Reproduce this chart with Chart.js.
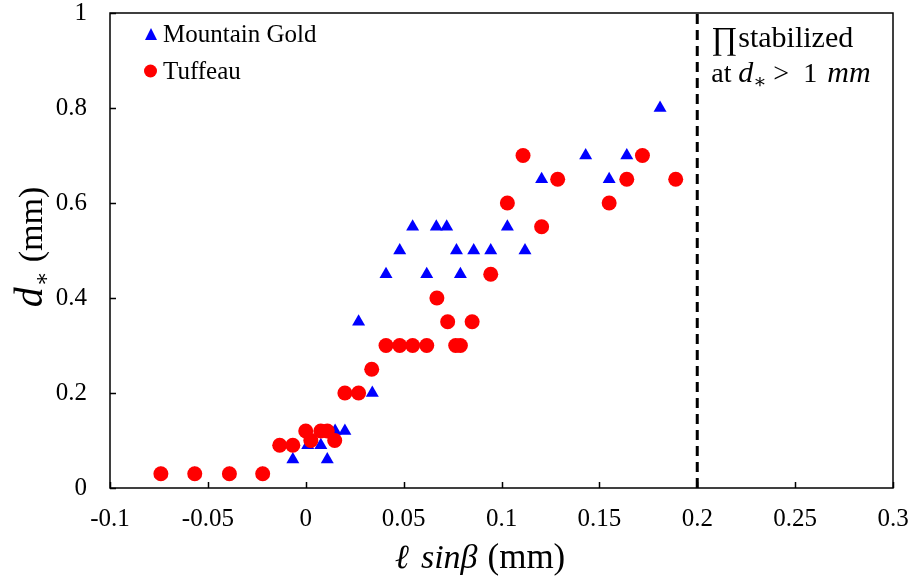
<!DOCTYPE html>
<html>
<head>
<meta charset="utf-8">
<script src="https://cdn.jsdelivr.net/npm/chart.js@4/dist/chart.umd.min.js"></script>
<style>
  html, body { margin: 0; padding: 0; background: #fff; }
  #wrap { width: 913px; height: 585px; position: relative; }
</style>
</head>
<body>
<div id="wrap"><canvas id="chart" width="913" height="585"></canvas></div>
<script>
// values
const mgX = [-0.074, -0.0567, -0.039, -0.022, -0.0133, -0.0066, 0.001, 0.0077, 0.011, 0.015, 0.02,
             0.034, 0.027, 0.041, 0.048, 0.0546, 0.0618, 0.0667, 0.072, 0.077, 0.079, 0.0858, 0.0945,
             0.103, 0.112, 0.1205, 0.1287, 0.143, 0.155, 0.164, 0.172, 0.181];
const mgY = [0.03, 0.03, 0.03, 0.03, 0.09, 0.06, 0.09, 0.09, 0.06, 0.12, 0.12,
             0.2, 0.35, 0.45, 0.5, 0.55, 0.45, 0.55, 0.55, 0.5, 0.45, 0.5, 0.5,
             0.55, 0.5, 0.65, 0.65, 0.7, 0.65, 0.7, 0.7, 0.8];
const tuX = [-0.074, -0.0567, -0.039, -0.022, -0.0133, -0.0066, 0, 0.0026, 0.0077, 0.011, 0.0148,
             0.02, 0.027, 0.0337, 0.041, 0.048, 0.0546, 0.0618, 0.067, 0.0725, 0.0766, 0.079, 0.085,
             0.0945, 0.103, 0.111, 0.1205, 0.1287, 0.155, 0.164, 0.172, 0.189];
const tuY = [0.03, 0.03, 0.03, 0.03, 0.09, 0.09, 0.12, 0.1, 0.12, 0.12, 0.1,
             0.2, 0.2, 0.25, 0.3, 0.3, 0.3, 0.3, 0.4, 0.35, 0.3, 0.3, 0.35,
             0.45, 0.6, 0.7, 0.55, 0.65, 0.6, 0.65, 0.7, 0.65];
const limitX = [0.2, 0.2];
const limitY = [0, 1];
const xTicks = [-0.1, -0.05, 0, 0.05, 0.1, 0.15, 0.2, 0.25, 0.3];
const yTicks = [0, 0.2, 0.4, 0.6, 0.8, 1];
const seriesNames = ['Mountain Gold', 'Tuffeau'];

const SERIF = '"Liberation Serif", "DejaVu Serif", serif';

function pairs(xs, ys) {
    return xs.map((x, i) => ({ x: x, y: ys[i] }));
}

// draws a run of [text, font, dx, dy] pieces starting at x,y
function drawRun(ctx, pieces, x, y) {
    let cx = x;
    pieces.forEach(p => {
        ctx.font = p[1];
        ctx.fillText(p[0], cx + (p[2] || 0), y + (p[3] || 0));
        cx += ctx.measureText(p[0]).width + (p[2] || 0);
    });
    return cx - x;
}

function runWidth(ctx, pieces) {
    let w = 0;
    pieces.forEach(p => { ctx.font = p[1]; w += ctx.measureText(p[0]).width + (p[2] || 0); });
    return w;
}

// frame, inward ticks, legend, titles and the annotation
const decor = {
    id: 'decor',
    afterDatasetsDraw(chart) {
        const ctx = chart.ctx;
        const a = chart.chartArea;
        const xs = chart.scales.x, ys = chart.scales.y;
        ctx.save();
        ctx.strokeStyle = '#000';
        ctx.lineWidth = 1.5;
        ctx.strokeRect(a.left, a.top, a.right - a.left, a.bottom - a.top);
        ctx.beginPath();
        xTicks.forEach(v => {
            const px = Math.round(xs.getPixelForValue(v)) + 0.5;
            ctx.moveTo(px, a.bottom); ctx.lineTo(px, a.bottom - 6);
        });
        yTicks.forEach(v => {
            const py = Math.round(ys.getPixelForValue(v)) + 0.5;
            ctx.moveTo(a.left, py); ctx.lineTo(a.left + 6, py);
        });
        ctx.stroke();

        // legend
        ctx.fillStyle = '#0000ff';
        ctx.beginPath();
        ctx.moveTo(151, 28); ctx.lineTo(157, 40); ctx.lineTo(145, 40); ctx.closePath();
        ctx.fill();
        ctx.fillStyle = '#ff0000';
        ctx.beginPath(); ctx.arc(150.5, 71, 6.5, 0, Math.PI * 2); ctx.fill();
        ctx.fillStyle = '#000';
        ctx.font = '25px ' + SERIF;
        ctx.textBaseline = 'alphabetic';
        ctx.textAlign = 'left';
        ctx.fillText(seriesNames[0], 163, 42);
        ctx.fillText(seriesNames[1], 163, 79);

        // annotation next to the dashed line
        const ax = xs.getPixelForValue(0.2) + 14;
        ctx.font = '32px ' + SERIF;
        ctx.fillText('\u220F', ax, 49);
        ctx.font = '30px ' + SERIF;
        ctx.fillText('stabilized', ax + 27, 47);
        ctx.font = '28px ' + SERIF;
        ctx.fillText('at', ax, 82);
        ctx.font = 'italic 30px ' + SERIF;
        ctx.fillText('d', ax + 27, 82);
        ctx.font = '20px ' + SERIF;
        ctx.fillText('\u2217', ax + 42, 88);
        ctx.font = '28px ' + SERIF;
        ctx.fillText('>', ax + 62, 82);
        ctx.fillText('1', ax + 92, 82);
        ctx.font = 'italic 30px ' + SERIF;
        ctx.fillText('mm', ax + 116, 82);

        // x title
        const xt = [
            ['\u2113', 'italic 34px ' + SERIF],
            ['sin\u03B2', 'italic 34px ' + SERIF, 12],
            ['(mm)', '35px ' + SERIF, 10]
        ];
        const xw = runWidth(ctx, xt);
        drawRun(ctx, xt, 480 - xw / 2, 568);

        // y title (rotated)
        ctx.translate(42, 247);
        ctx.rotate(-Math.PI / 2);
        const yt = [
            ['d', 'italic 40px ' + SERIF],
            ['\u2217', '22px ' + SERIF, 1, 7],
            ['(mm)', '34px ' + SERIF, 9]
        ];
        const yw = runWidth(ctx, yt);
        drawRun(ctx, yt, -yw / 2, 0);
        ctx.restore();
    }
};

const noPad = s => { s.paddingTop = 0; s.paddingBottom = 0; s.paddingLeft = 0; s.paddingRight = 0; };

const chart = new Chart(document.getElementById('chart'), {
    type: 'scatter',
    data: {
        datasets: [
            {
                label: 'limit',
                type: 'line',
                data: pairs(limitX, limitY),
                borderColor: '#000',
                borderWidth: 3,
                borderDash: [10, 6],
                pointRadius: 0,
                fill: false,
                order: 3
            },
            {
                label: seriesNames[0],
                data: pairs(mgX, mgY),
                pointStyle: 'triangle',
                pointRadius: 7.5,
                backgroundColor: '#0000ff',
                borderColor: '#0000ff',
                borderWidth: 0,
                order: 2
            },
            {
                label: seriesNames[1],
                data: pairs(tuX, tuY),
                pointStyle: 'circle',
                pointRadius: 7.5,
                backgroundColor: '#ff0000',
                borderColor: '#ff0000',
                borderWidth: 0,
                order: 1
            }
        ]
    },
    options: {
        responsive: false,
        animation: false,
        layout: { padding: { left: 0, right: 20, top: 13, bottom: 0 } },
        plugins: { legend: { display: false }, tooltip: { enabled: false } },
        scales: {
            x: {
                type: 'linear',
                min: -0.1, max: 0.3,
                afterBuildTicks: s => { s.ticks = xTicks.map(v => ({ value: v })); },
                afterFit: s => { s.height = 97; noPad(s); },
                grid: { display: false, drawTicks: false },
                border: { display: false },
                ticks: {
                    color: '#000',
                    font: { family: SERIF, size: 25 },
                    padding: 16,
                    maxRotation: 0,
                    callback: v => String(+v.toFixed(2))
                }
            },
            y: {
                type: 'linear',
                min: 0, max: 1,
                afterBuildTicks: s => { s.ticks = yTicks.map(v => ({ value: v })); },
                afterFit: s => { s.width = 110; noPad(s); },
                grid: { display: false, drawTicks: false },
                border: { display: false },
                ticks: {
                    color: '#000',
                    font: { family: SERIF, size: 25 },
                    padding: 23,
                    callback: v => String(+v.toFixed(1))
                }
            }
        }
    },
    plugins: [decor]
});
</script>
</body>
</html>
